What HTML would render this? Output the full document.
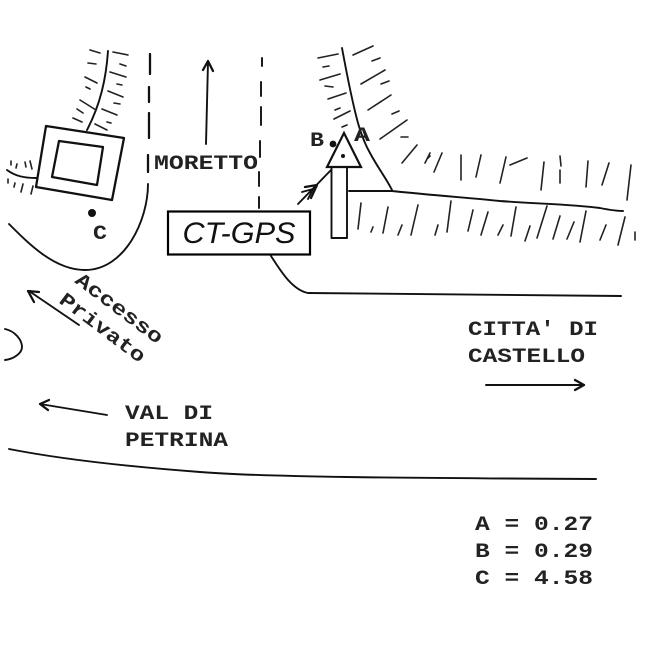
<!DOCTYPE html>
<html><head><meta charset="utf-8">
<style>
html,body{margin:0;padding:0;background:#fff}
svg{display:block}
.l{fill:none;stroke:#111;stroke-width:1.9;stroke-linecap:round;stroke-linejoin:round}
.b{stroke-width:2.3}
.h{fill:none;stroke:#222;stroke-width:1.6;stroke-linecap:round}
.t{font-family:"Liberation Mono",monospace;font-weight:bold;font-size:20px;fill:#222}
</style></head><body>
<svg width="649" height="649" viewBox="0 0 649 649" xmlns="http://www.w3.org/2000/svg">
<rect width="649" height="649" fill="#fff"/>
<!-- left ridge -->
<path class="l" d="M108 51C106 80 100 105 87 130"/>
<path class="h" d="M90 50L100 53M88 63L96 64M85 77L97 83M86 87L90 89M80 100L96 110M77 109L83 113M73 118L82 122M113 52L128 55M120 64L126 66M110 72L126 77M117 84L122 85M108 91L123 97M114 103L120 104M102 109L117 115M107 122L111 123M95 124L107 130"/>
<!-- dashed road lines -->
<path class="l b" d="M150 54V74M149 87V102M149 113V138M148 155V172"/>
<path class="l" d="M148 184C148 220 125 270 85 270C55 270 30 245 9 224"/>
<path class="l" d="M262 58V66M261 82V96M261 107V125M260 141V157M259 172V186M259 197V208"/>
<!-- building -->
<path class="l b" d="M46 126L124 138L112 200L36 187Z"/>
<path class="l b" d="M59 141L103 147L97 185L52 177Z"/>
<path class="l" d="M7 170C15 176 24 178 36 178"/>
<path class="h" d="M11 161V165M17 164L16 168M25 162L26 167M30 161L32 169M8 179V183M15 183L14 187M23 184L21 192M33 186L31 194"/>
<circle cx="92" cy="213" r="4" fill="#111"/>
<!-- arrow up -->
<path class="l" d="M206 144L208 62"/>
<path class="l b" d="M203 70L208 61L213 71"/>
<!-- right ridge -->
<path class="l" d="M342 48C347 75 353 105 358 123C362 137 366 146 370 153C378 168 386 178 392 190"/>
<path class="l" d="M349 191H392C430 195 470 198 500 201C540 204 570 204 600 208C610 210 620 211 623 211"/>
<path class="h" d="M318 58L338 54M323 67L329 66M320 80L340 74M325 86L333 87M328 99L346 93M335 110L340 108M334 119L350 111M342 127L347 125M353 55L373 46M372 61L380 58M361 84L385 70M381 84L389 81M368 110L391 95M392 114L399 111M380 139L407 120M401 137L408 137M402 163L417 145M425 163L430 153M434 172L442 153M428 158L430 156M461 180L461 155M476 177L481 155M500 183L506 157M510 165L527 158M541 190L544 162M560 183V170M560 156L561 166M586 187L588 161M602 185L609 163M627 200L631 165"/>
<path class="h" d="M358 229L361 203M371 232L373 227M383 233L388 207M398 235L402 225M411 235L418 205M435 235L438 225M447 232L451 201M468 231L473 210M481 235L488 212M498 235L503 225M511 236L516 207M525 241L530 226M537 238L547 206M553 239L560 216M567 239L574 222M580 242L586 211M600 240L606 225M618 245L625 217M635 240V232"/>
<!-- pole -->
<path class="l" d="M331.5 168V238H347V168"/>
<!-- triangle -->
<path d="M344 133L361 167H327Z" fill="#fff" stroke="#111" stroke-width="2.2"/>
<circle cx="343" cy="156" r="2" fill="#111"/>
<circle cx="333" cy="144" r="3.4" fill="#111"/>
<!-- ct-gps arrow -->
<path class="l" d="M298 204L331 170"/>
<path class="l b" d="M305 187L317 185L311 198"/>
<path class="l" d="M302 192L313 189L308 199"/>
<!-- lower road curve -->
<path class="l" d="M271 256C280 270 292 290 308 293L621 296"/>
<!-- box -->
<rect x="168" y="211.5" width="142" height="43" fill="#fff" stroke="#000" stroke-width="2.2"/>
<text x="239" y="243" text-anchor="middle" font-family="'Liberation Sans',sans-serif" font-style="italic" font-size="30" fill="#111" textLength="113" lengthAdjust="spacingAndGlyphs">CT-GPS</text>
<!-- labels -->
<text class="t" x="154" y="169" textLength="104" lengthAdjust="spacingAndGlyphs">MORETTO</text>
<text class="t" x="93" y="239" textLength="14" lengthAdjust="spacingAndGlyphs">C</text>
<text class="t" x="310" y="146" textLength="14" lengthAdjust="spacingAndGlyphs">B</text>
<text class="t" x="354" y="141" textLength="16" lengthAdjust="spacingAndGlyphs">A</text>
<text class="t" transform="translate(74 282) rotate(37)" textLength="104" lengthAdjust="spacingAndGlyphs">Accesso</text>
<text class="t" transform="translate(58 302) rotate(37)" textLength="102" lengthAdjust="spacingAndGlyphs">Privato</text>
<text class="t" x="468" y="335" textLength="130" lengthAdjust="spacingAndGlyphs">CITTA' DI</text>
<text class="t" x="468" y="362" textLength="117" lengthAdjust="spacingAndGlyphs">CASTELLO</text>
<text class="t" x="125" y="419" textLength="88" lengthAdjust="spacingAndGlyphs">VAL DI</text>
<text class="t" x="125" y="446" textLength="103" lengthAdjust="spacingAndGlyphs">PETRINA</text>
<text class="t" x="475" y="530" textLength="118" lengthAdjust="spacingAndGlyphs">A = 0.27</text>
<text class="t" x="475" y="557" textLength="118" lengthAdjust="spacingAndGlyphs">B = 0.29</text>
<text class="t" x="475" y="584" textLength="118" lengthAdjust="spacingAndGlyphs">C = 4.58</text>
<!-- arrows -->
<path class="l" d="M79 325L29 291"/>
<path class="l b" d="M39 292L28 291L34 302"/>
<path class="l" d="M107 415L40 404"/>
<path class="l b" d="M49 400L40 404L48 410"/>
<path class="l" d="M486 385L584 385"/>
<path class="l b" d="M575 380L584 385L575 390"/>
<!-- small arc -->
<path class="l" d="M5 329C15 331 22 340 22 347C22 353 14 359 5 360"/>
<!-- bottom road -->
<path class="l" d="M9 449C60 459 120 466 200 472C260 477 400 478 596 479"/>
</svg>
</body></html>
